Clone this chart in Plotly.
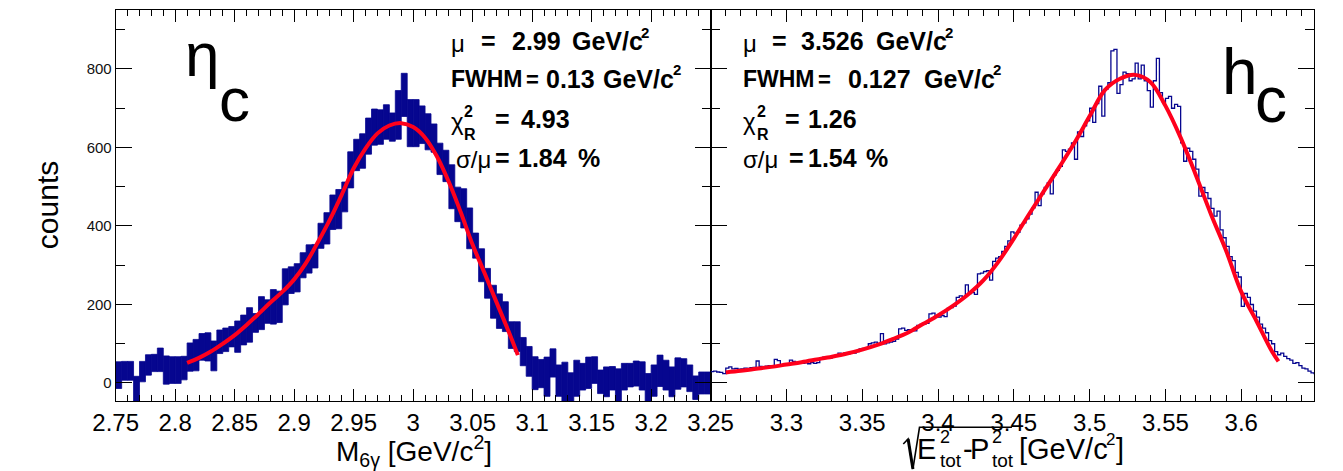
import numpy as np
import plotly.graph_objects as go

W, H = 1343, 471
FONT = "Liberation Sans"
NAVY = "#06068f"
RED = "rgb(255,0,28)"

# ---------------- eta_c : M(6 gamma), 100 bins of 5 MeV ----------------
etac_lo, etac_width = 2.75, 0.005
etac_counts = [
    20, 31, 31, -15, 29, 46, 51, 59, 33, 33,
    33, 38, 66, 71, 92, 92, 69, 105, 110, 118,
    118, 135, 148, 153, 178, 182, 194, 194, 245, 262,
    268, 300, 316, 323, 375, 394, 435, 443, 474, 543,
    581, 591, 629, 652, 652, 665, 652, 683, 734, 662,
    662, 658, 640, 624, 571, 553, 500, 455, 445, 394,
    350, 300, 254, 207, 183, 169, 122, 118, 80, 55,
    25, 24, 16, 51, 6, 3, -12, 12, 16, 26,
    33, 3, 3, 12, -10, 16, 20, 24, 18, -18,
    6, 31, 20, 3, 24, 26, 12, -12, 0, 0,
]
etac_errors = [
    34, 24, 24, 32, 26, 26, 22, 30, 36, 34,
    34, 30, 36, 40, 34, 36, 38, 30, 30, 26,
    40, 38, 44, 24, 42, 30, 44, 40, 46, 34,
    36, 32, 36, 30, 32, 40, 44, 50, 38, 46,
    40, 44, 46, 46, 44, 44, 36, 62, 55, 60,
    60, 48, 46, 36, 40, 40, 56, 44, 50, 52,
    32, 42, 38, 42, 44, 38, 34, 38, 36, 38,
    42, 36, 50, 36, 40, 50, 38, 46, 34, 40,
    34, 30, 38, 30, 46, 34, 30, 32, 36, 42,
    40, 40, 38, 38, 40, 36, 34, 30, 28, 28,
]
etac_fit_x = [2.81, 2.82, 2.83, 2.84, 2.85, 2.86, 2.87, 2.88, 2.89, 2.90,
              2.91, 2.92, 2.93, 2.94, 2.95, 2.96, 2.97, 2.98, 2.99, 3.00,
              3.01, 3.02, 3.03, 3.04, 3.05, 3.06, 3.07, 3.08, 3.088]
etac_fit_y = [51, 64, 80, 100, 122, 148, 176, 205, 232, 264,
              306, 359, 416, 480, 547, 598, 636, 656, 662, 652,
              625, 577, 512, 435, 352, 280, 206, 133, 71]

# ---------------- h_c : sqrt(E^2 - P^2), 200 bins of 2 MeV ----------------
hc_lo, hc_width = 3.25, 0.002
hc_counts = [
    29, 30, 28, 27, 24, 38, 41, 36, 37, 35,
    36, 38, 37, 39, 40, 56, 42, 41, 43, 44,
    44, 60, 57, 45, 47, 46, 58, 55, 50, 52,
    50, 51, 49, 52, 50, 52, 64, 66, 65, 63,
    66, 68, 76, 75, 77, 74, 78, 76, 80, 87,
    88, 90, 100, 102, 104, 101, 126, 100, 102, 104,
    106, 112, 138, 140, 134, 136, 135, 133, 147, 149,
    150, 152, 176, 178, 170, 168, 172, 169, 190, 192,
    196, 218, 222, 220, 250, 228, 230, 226, 278, 280,
    284, 286, 262, 310, 318, 322, 335, 348, 362, 385,
    382, 384, 402, 408, 418, 430, 446, 486, 452, 482,
    498, 510, 482, 530, 542, 552, 594, 590, 596, 612,
    570, 640, 628, 655, 668, 700, 664, 712, 756, 680,
    748, 765, 846, 850, 738, 760, 792, 788, 770, 775,
    815, 775, 810, 770, 745, 703, 770, 827, 740, 715,
    725, 730, 700, 710, 705, 612, 565, 598, 590, 570,
    545, 476, 498, 485, 470, 445, 425, 438, 390, 370,
    348, 322, 312, 282, 270, 195, 228, 218, 200, 183,
    168, 150, 140, 128, 108, 100, 80, 72, 76, 68,
    62, 58, 50, 52, 44, 38, 36, 30, 26, 24,
]
hc_fit_x = [3.26, 3.27, 3.28, 3.29, 3.30, 3.31, 3.32, 3.33, 3.34, 3.35,
            3.36, 3.37, 3.38, 3.39, 3.40, 3.41, 3.42, 3.43, 3.44, 3.45,
            3.46, 3.47, 3.48, 3.49, 3.50, 3.51, 3.52, 3.53, 3.54, 3.55,
            3.56, 3.57, 3.58, 3.59, 3.60, 3.61, 3.62, 3.6245]
hc_fit_y = [27, 31, 36, 41, 47, 53, 60, 67, 75, 85,
            97, 112, 128, 150, 172, 197, 226, 262, 310, 368,
            430, 490, 550, 612, 680, 746, 775, 785, 767, 706,
            625, 530, 430, 337, 232, 158, 82, 55]

# ---------------- ticks ----------------
left_ticks = [2.75, 2.8, 2.85, 2.9, 2.95, 3.0, 3.05, 3.1, 3.15, 3.2, 3.25]
left_tick_text = ["2.75", "2.8", "2.85", "2.9", "2.95", "3", "3.05", "3.1", "3.15", "3.2", "3.25"]
right_ticks = [3.3, 3.35, 3.4, 3.45, 3.5, 3.55, 3.6]
right_tick_text = ["3.3", "3.35", "3.4", "3.45", "3.5", "3.55", "3.6"]
y_ticks = [0, 200, 400, 600, 800]
y_tick_text = ["0", "200", "400", "600", "800"]

Y_RANGE = [-45.9, 950.3]

fig = go.Figure()

# eta_c histogram: each bin drawn as its error box
n_l = len(etac_counts)
etac_centers = etac_lo + etac_width * (np.arange(n_l) + 0.5)
cnt = np.array(etac_counts, dtype=float)
err = np.array(etac_errors, dtype=float)
fig.add_trace(go.Bar(
    x=etac_centers, y=2 * err, base=cnt - err, width=etac_width,
    marker=dict(color=NAVY, line=dict(width=0.8, color=NAVY)),
    xaxis="x", yaxis="y", hoverinfo="skip",
))
fig.add_trace(go.Scatter(
    x=etac_fit_x, y=etac_fit_y, mode="lines",
    line=dict(color=RED, width=4, shape="spline"),
    xaxis="x", yaxis="y", hoverinfo="skip",
))

# h_c histogram as a step line
n_r = len(hc_counts)
hc_edges = hc_lo + hc_width * np.arange(n_r + 1)
fig.add_trace(go.Scatter(
    x=hc_edges, y=list(hc_counts) + [hc_counts[-1]], mode="lines",
    line=dict(color=NAVY, width=1.3, shape="hv"),
    xaxis="x2", yaxis="y2", hoverinfo="skip",
))
fig.add_trace(go.Scatter(
    x=hc_fit_x, y=hc_fit_y, mode="lines",
    line=dict(color=RED, width=4, shape="spline"),
    xaxis="x2", yaxis="y2", hoverinfo="skip",
))

ydom = [1 - 401 / H, 1 - 10 / H]
axis_common = dict(
    showline=True, linecolor="black", linewidth=1, mirror="ticks",
    ticks="inside", tickcolor="black", tickwidth=1.2,
    showgrid=False, zeroline=False,
)
minor_common = dict(ticks="inside", tickwidth=1.2, tickcolor="black", showgrid=False)
fig.update_layout(
    width=W, height=H, margin=dict(l=0, r=0, t=0, b=0),
    paper_bgcolor="white", plot_bgcolor="white", showlegend=False,
    xaxis=dict(
        domain=[96 / W, 712 / W], range=[2.75, 3.25], anchor="y",
        tickmode="array", tickvals=left_ticks, ticktext=left_tick_text,
        ticklen=12, tickfont=dict(size=24, family=FONT, color="black"),
        minor=dict(tickmode="linear", tick0=2.75, dtick=0.01, ticklen=6, **minor_common),
        **axis_common,
    ),
    yaxis=dict(
        domain=ydom, range=Y_RANGE, anchor="x",
        tickmode="array", tickvals=y_ticks, ticktext=y_tick_text,
        ticklen=16, tickfont=dict(size=15, family=FONT, color="#111"),
        minor=dict(tickmode="linear", tick0=0, dtick=100, ticklen=9, **minor_common),
        **axis_common,
    ),
    xaxis2=dict(
        domain=[712 / W, 1337 / W], range=[3.25, 3.25 + 625 / 1570], anchor="y2",
        tickmode="array", tickvals=right_ticks, ticktext=right_tick_text,
        ticklen=12, tickfont=dict(size=24, family=FONT, color="black"),
        minor=dict(tickmode="linear", tick0=3.25, dtick=0.01, ticklen=6, **minor_common),
        **axis_common,
    ),
    yaxis2=dict(
        domain=ydom, range=Y_RANGE, anchor="x2",
        tickmode="array", tickvals=y_ticks, showticklabels=False,
        ticklen=16,
        minor=dict(tickmode="linear", tick0=0, dtick=100, ticklen=9, **minor_common),
        **axis_common,
    ),
)


def label(text, px, py, size, bold=False, xanchor="left", angle=0, color="black"):
    fig.add_annotation(
        x=px / W, y=1 - py / H, xref="paper", yref="paper",
        text=f"<b>{text}</b>" if bold else text,
        showarrow=False, xanchor=xanchor, yanchor="middle", textangle=angle,
        font=dict(size=size, family=FONT, color=color), borderpad=0,
    )


# particle names
label("η", 185, 55, 62, xanchor="center")
label("c", 219, 100, 62, xanchor="center")
label("h", 1260, 72, 64, xanchor="center")
label("c", 1292, 100, 64, xanchor="center")

# y title
label("counts", 25, 205, 30, xanchor="center", angle=-90)

# fit summaries
SV, SS = 25, 15
GEV_W = 2.835 * SV          # advance width of a bold "GeV/c"
ROWS = [41, 79, 119, 158]
panels = [
    dict(x0=442, mu_eq=473, mu_val=("2.99", 505), mu_unit=567,
         fw_eq=520, fw_val=("0.13", 540), fw_unit=600,
         chi_eq=488, chi_val=("4.93", 515),
         sg_x=447, sg_eq=488, sg_val=("1.84", 512), pct=574),
    dict(x0=745, mu_eq=775, mu_val=("3.526", 805), mu_unit=882,
         fw_eq=822, fw_val=("0.127", 853), fw_unit=932,
         chi_eq=788, chi_val=("1.26", 812),
         sg_x=745, sg_eq=792, sg_val=("1.54", 812), pct=872),
]
for p in panels:
    x0 = p["x0"]
    # mu line
    label("μ", x0, ROWS[0] + 3, 24)
    label("=", p["mu_eq"], ROWS[0], SV, bold=True)
    label(p["mu_val"][0], p["mu_val"][1], ROWS[0], SV, bold=True)
    label("GeV/c", p["mu_unit"], ROWS[0], SV, bold=True)
    label("2", p["mu_unit"] + GEV_W + 1, 33, SS, bold=True)
    # FWHM line
    label("FWHM", x0, ROWS[1], 23, bold=True)
    label("=", p["fw_eq"], ROWS[1] + 1, 22, bold=True)
    label(p["fw_val"][0], p["fw_val"][1], ROWS[1], SV, bold=True)
    label("GeV/c", p["fw_unit"], ROWS[1], SV, bold=True)
    label("2", p["fw_unit"] + GEV_W + 1, 70, SS, bold=True)
    # reduced chi2 line
    label("χ", x0, ROWS[2] + 3, 24)
    label("2", x0 + 14, 112, 16, bold=True)
    label("R", x0 + 14, 135, 16, bold=True)
    label("=", p["chi_eq"], ROWS[2], SV, bold=True)
    label(p["chi_val"][0], p["chi_val"][1], ROWS[2], SV, bold=True)
    # sigma/mu line
    label("σ/μ", p["sg_x"], ROWS[3] + 2, 24)
    label("=", p["sg_eq"], ROWS[3], SV, bold=True)
    label(p["sg_val"][0], p["sg_val"][1], ROWS[3], SV, bold=True)
    label("%", p["pct"], ROWS[3], SV, bold=True)

# x title, left panel
label("M<sub>6γ</sub> [GeV/c<sup>2</sup>]", 405, 451, 28, xanchor="center")

# x title, right panel: stacked super/subscripts placed piece by piece
label("E", 925, 449, 29)
label("2", 948, 437, 18)
label("tot", 948, 460, 19)
label("-", 972, 449, 29)
label("P", 980, 449, 29)
label("2", 1002, 437, 18)
label("tot", 1002, 460, 19)
label("[GeV/c", 1030, 449, 29)
label("2", 1120, 439, 17)
label("]", 1131, 449, 29)


def pp(px, py):
    return f"{px / W:.5f},{1 - py / H:.5f}"


# square-root sign with overline
fig.add_shape(type="path", xref="paper", yref="paper",
              path=f"M{pp(911.5, 444)} L{pp(916.5, 439)} L{pp(921.5, 469)} "
                   f"L{pp(928.3, 427.3)} L{pp(1024, 427.3)}",
              line=dict(color="black", width=1.6))
fig.add_shape(type="path", xref="paper", yref="paper",
              path=f"M{pp(916.5, 439)} L{pp(921.5, 469)}",
              line=dict(color="black", width=3))

fig.write_html("out.html")
